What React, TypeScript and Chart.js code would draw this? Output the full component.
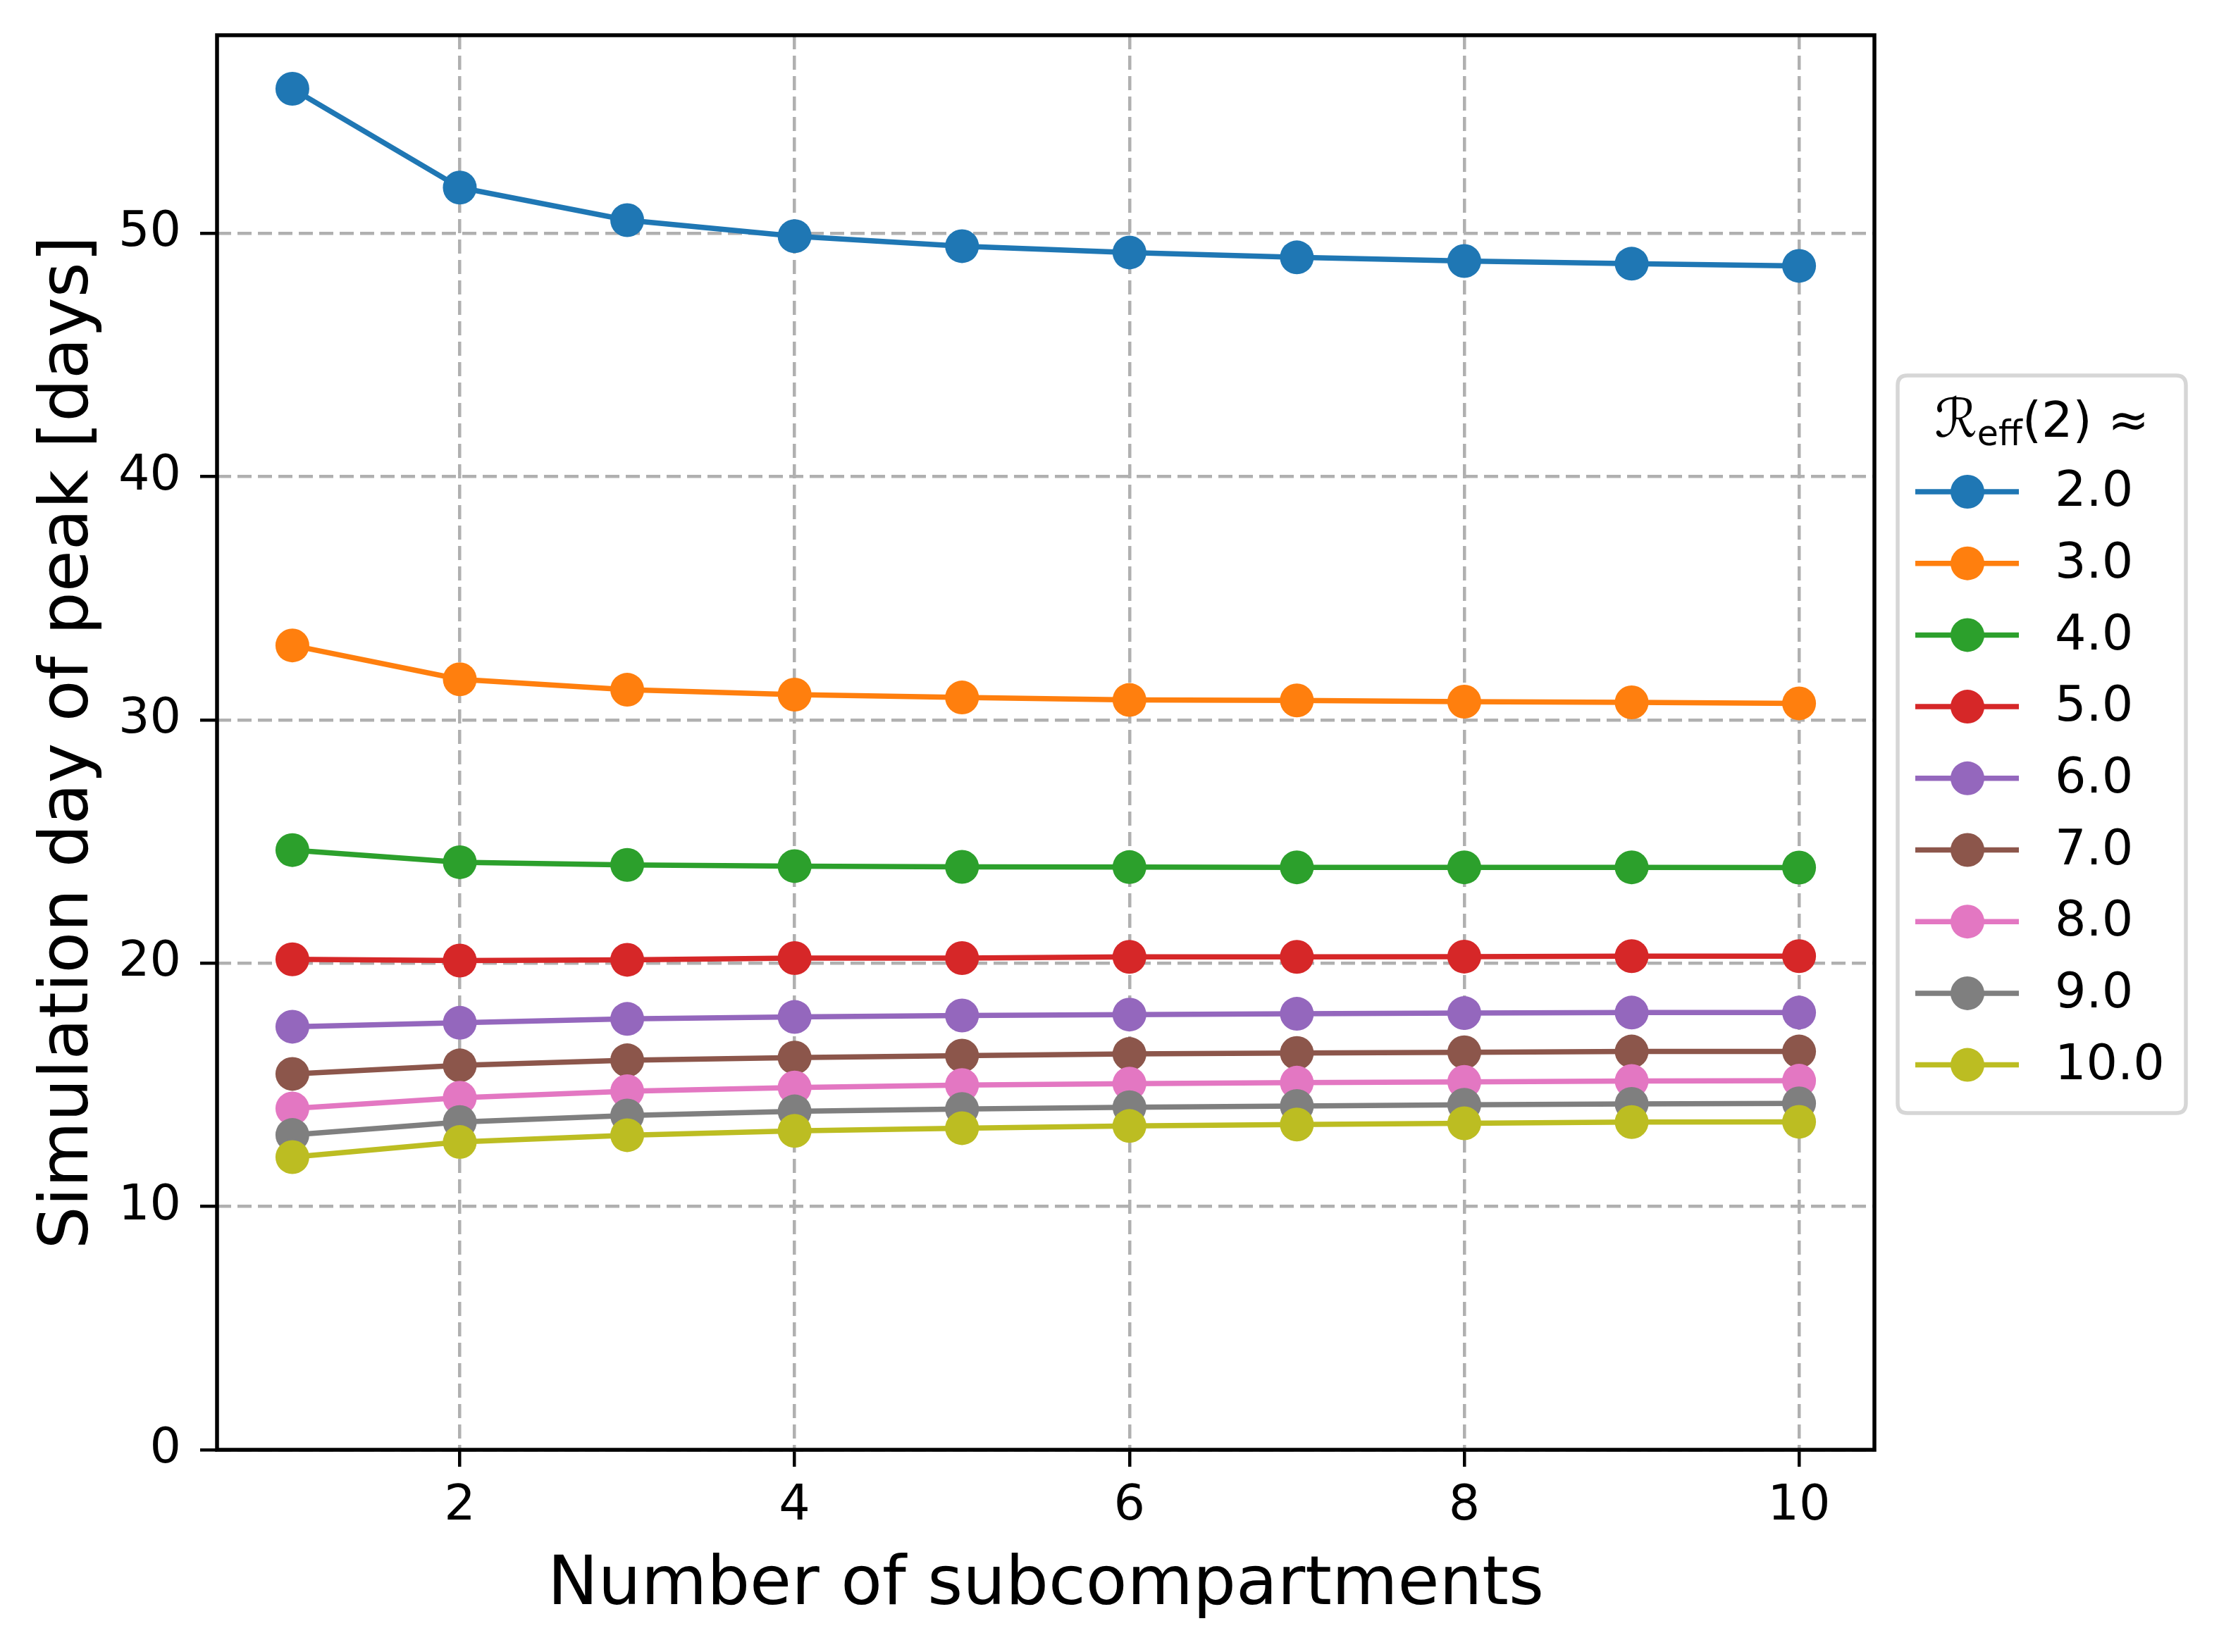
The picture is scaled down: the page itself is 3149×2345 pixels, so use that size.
import React, { useEffect, useRef } from 'react';
import { Chart, registerables } from 'chart.js';

Chart.register(...registerables);

const subcompartments = [1, 2, 3, 4, 5, 6, 7, 8, 9, 10];
const seriesLabels = ['2.0', '3.0', '4.0', '5.0', '6.0', '7.0', '8.0', '9.0', '10.0'];
const seriesColors = ['#1f77b4', '#ff7f0e', '#2ca02c', '#d62728', '#9467bd', '#8c564b', '#e377c2', '#7f7f7f', '#bcbd22'];

const peakR2 = [55.94, 51.88, 50.54, 49.88, 49.47, 49.21, 49.01, 48.86, 48.75, 48.66];
const peakR3 = [33.06, 31.67, 31.24, 31.04, 30.92, 30.82, 30.8, 30.75, 30.72, 30.68];
const peakR4 = [24.65, 24.15, 24.04, 23.99, 23.96, 23.95, 23.94, 23.94, 23.94, 23.93];
const peakR5 = [20.16, 20.11, 20.14, 20.21, 20.21, 20.26, 20.26, 20.27, 20.29, 20.29];
const peakR6 = [17.39, 17.55, 17.71, 17.79, 17.85, 17.89, 17.92, 17.95, 17.97, 17.97];
const peakR7 = [15.45, 15.8, 16.01, 16.12, 16.2, 16.27, 16.31, 16.34, 16.37, 16.37];
const peakR8 = [14.03, 14.47, 14.74, 14.89, 14.99, 15.05, 15.09, 15.12, 15.16, 15.17];
const peakR9 = [12.94, 13.47, 13.74, 13.91, 14.01, 14.08, 14.13, 14.18, 14.22, 14.24];
const peakR10 = [12.03, 12.65, 12.93, 13.11, 13.22, 13.31, 13.37, 13.42, 13.47, 13.48];

const allSeries = [peakR2, peakR3, peakR4, peakR5, peakR6, peakR7, peakR8, peakR9, peakR10];

const xTicks = [2, 4, 6, 8, 10];
const yTicks = [0, 10, 20, 30, 40, 50];

const xTitle = 'Number of subcompartments';
const yTitle = 'Simulation day of peak [days]';

const FONT = "'DejaVu Sans', 'Noto Sans', sans-serif";
const W = 3149;
const H = 2345;

const frameBox = {
  id: 'frameBox',
  afterDatasetsDraw(chart: any) {
    const { ctx, chartArea } = chart;
    ctx.save();
    ctx.strokeStyle = '#000';
    ctx.lineWidth = 5.5;
    ctx.strokeRect(chartArea.left, chartArea.top, chartArea.right - chartArea.left, chartArea.bottom - chartArea.top);
    ctx.restore();
  },
};

const customLegend = {
  id: 'customLegend',
  afterDraw(chart: any) {
    const ctx = chart.ctx;
    const bx = 2693, by = 533, bw = 409, bh = 1047, r = 14;
    ctx.save();
    ctx.beginPath();
    ctx.moveTo(bx + r, by);
    ctx.lineTo(bx + bw - r, by);
    ctx.quadraticCurveTo(bx + bw, by, bx + bw, by + r);
    ctx.lineTo(bx + bw, by + bh - r);
    ctx.quadraticCurveTo(bx + bw, by + bh, bx + bw - r, by + bh);
    ctx.lineTo(bx + r, by + bh);
    ctx.quadraticCurveTo(bx, by + bh, bx, by + bh - r);
    ctx.lineTo(bx, by + r);
    ctx.quadraticCurveTo(bx, by, bx + r, by);
    ctx.closePath();
    ctx.fillStyle = 'rgba(255,255,255,0.8)';
    ctx.fill();
    ctx.strokeStyle = '#d6d6d6';
    ctx.lineWidth = 5.5;
    ctx.stroke();

    // title: R_eff(2) ≈
    const mainFont = `70px ${FONT}`;
    const subFont = `49px ${FONT}`;
    const calFont = `italic 76px 'DejaVu Serif', ${FONT}`;
    const parts = [
      { t: 'ℛ', f: calFont, dy: 0 },
      { t: 'eff', f: subFont, dy: 12 },
      { t: '(2)', f: mainFont, dy: 0 },
      { t: ' ≈', f: mainFont, dy: 0 },
    ];
    let total = 0;
    const widths = parts.map((p) => {
      ctx.font = p.f;
      const w = ctx.measureText(p.t).width;
      total += w;
      return w;
    });
    let x = bx + bw / 2 - total / 2;
    const baseY = 620;
    ctx.fillStyle = '#000';
    ctx.textBaseline = 'alphabetic';
    ctx.textAlign = 'left';
    parts.forEach((p, i) => {
      ctx.font = p.f;
      ctx.fillText(p.t, x, baseY + p.dy);
      x += widths[i];
    });

    const rowStart = 698;
    const rowStep = 101.7;
    chart.data.datasets.forEach((ds: any, i: number) => {
      const cy = rowStart + i * rowStep;
      ctx.strokeStyle = ds.borderColor;
      ctx.lineWidth = 7.5;
      ctx.beginPath();
      ctx.moveTo(2718, cy);
      ctx.lineTo(2865, cy);
      ctx.stroke();
      ctx.fillStyle = ds.backgroundColor;
      ctx.beginPath();
      ctx.arc(2792, cy, 24, 0, Math.PI * 2);
      ctx.fill();
      ctx.fillStyle = '#000';
      ctx.font = mainFont;
      ctx.textBaseline = 'middle';
      ctx.fillText(ds.label, 2916, cy + 2);
    });
    ctx.restore();
  },
};

export default function App() {
  const canvasRef = useRef<HTMLCanvasElement | null>(null);

  useEffect(() => {
    const canvas = canvasRef.current;
    if (!canvas) return;
    const datasets = allSeries.map((vals, i) => ({
      label: seriesLabels[i],
      data: subcompartments.map((x, j) => ({ x, y: vals[j] })),
      borderColor: seriesColors[i],
      backgroundColor: seriesColors[i],
      pointBackgroundColor: seriesColors[i],
      pointBorderWidth: 0,
      pointRadius: 24,
      pointHoverRadius: 24,
      borderWidth: 7.5,
      tension: 0,
      fill: false,
      order: allSeries.length - i,
    }));

    const chart = new Chart(canvas, {
      type: 'line',
      data: { datasets },
      plugins: [frameBox, customLegend],
      options: {
        animation: false,
        responsive: false,
        devicePixelRatio: 1,
        events: [],
        layout: { padding: { left: 0, top: 50, right: 489, bottom: 0 } },
        plugins: {
          legend: { display: false },
          tooltip: { enabled: false },
        },
        scales: {
          x: {
            type: 'linear',
            min: 0.55,
            max: 10.45,
            afterBuildTicks: (axis: any) => {
              axis.ticks = xTicks.map((v) => ({ value: v }));
            },
            afterFit: (s: any) => {
              s.height = 287;
              s.paddingLeft = 0;
              s.paddingRight = 0;
            },
            ticks: {
              font: { family: FONT, size: 70 },
              color: '#000',
              padding: 15,
              maxRotation: 0,
              autoSkip: false,
            },
            grid: {
              color: '#b0b0b0',
              lineWidth: 4.5,
              tickColor: '#000',
              tickWidth: 4.5,
              tickLength: 24,
            },
            border: { display: false, dash: [20, 9] },
            title: {
              display: true,
              text: xTitle,
              font: { family: FONT, size: 96 },
              color: '#000',
              padding: { top: 0, bottom: 35 },
            },
          },
          y: {
            type: 'linear',
            min: 0,
            max: 58.14,
            afterBuildTicks: (axis: any) => {
              axis.ticks = yTicks.map((v) => ({ value: v }));
            },
            afterFit: (s: any) => {
              s.width = 308;
              s.paddingTop = 0;
              s.paddingBottom = 0;
            },
            ticks: {
              font: { family: FONT, size: 70 },
              color: '#000',
              padding: 27,
              autoSkip: false,
            },
            grid: {
              color: '#b0b0b0',
              lineWidth: 4.5,
              tickColor: '#000',
              tickWidth: 4.5,
              tickLength: 24,
            },
            border: { display: false, dash: [20, 9] },
            title: {
              display: true,
              text: yTitle,
              font: { family: FONT, size: 96 },
              color: '#000',
              padding: { top: 41, bottom: 0 },
            },
          },
        },
      },
    } as any);

    return () => {
      chart.destroy();
    };
  }, []);

  return (
    <div style={{ position: 'absolute', left: 0, top: 0, width: W, height: H, background: '#fff' }}>
      <canvas ref={canvasRef} width={W} height={H} style={{ width: W, height: H, display: 'block' }} />
    </div>
  );
}
